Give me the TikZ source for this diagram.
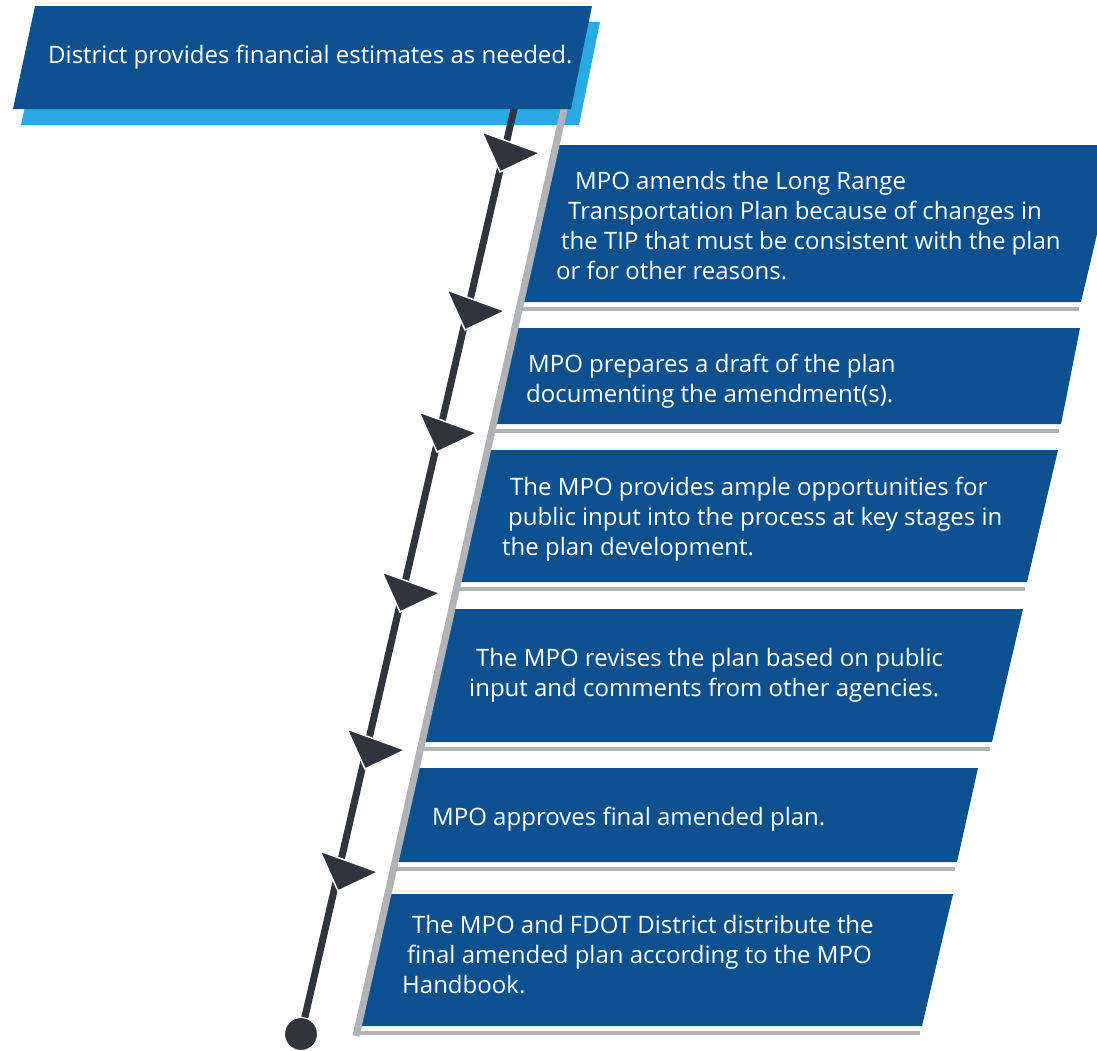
\documentclass[tikz,border=0pt]{standalone}
\usepackage{fontspec}
\setmainfont{Open Sans}
\definecolor{stepblue}{HTML}{0C518D}
\definecolor{shadowblue}{HTML}{29ABE2}
\definecolor{railgray}{HTML}{B1B3B6}
\definecolor{timedark}{HTML}{30343E}
\tikzset{
  steptext/.style={text=white,inner sep=0pt,anchor=west,align=left,font=\fontsize{24}{30}\selectfont},
  marker/.style={fill=timedark,draw=white,line width=1.5pt,line join=miter},
}

\begin{document}
\begin{tikzpicture}[x=1pt,y=-1pt]
			\clip (0,0) rectangle (1097,1050);
			% step boxes, left side sits on the rail
			\foreach \t/\b/\rt/\rb in {145/302/1118/1081,328/424/1080/1061,450/582/1058/1027,609/742/1023/992,768/862/978/957,894/1026/953/922}{
				\fill[stepblue] ({565-0.2254*(\t-110)},\t) -- (\rt,\t) -- (\rb,\b) -- ({565-0.2254*(\b-110)},\b) -- cycle;
				\draw[railgray,line width=4pt] ({565-0.2254*(\b+7-110)},\b+7) -- (\rb-2,\b+7);
			}
			% shadow of the first box
			\fill[shadowblue] (43,22) -- (600,22) -- (579,125) -- (21,125) -- cycle;
			% rail and timeline
			\draw[railgray,line width=7pt] (565,105) -- (356,1036);
			\coordinate (start) at (515,105);
			\node[circle,fill=timedark,draw=white,line width=1pt,minimum size=33pt,inner sep=0pt] (stop) at (301,1034) {};
			\draw[timedark,line width=7pt] (start) -- (stop);
			\fill[stepblue] (35,6) -- (592,6) -- (571,109) -- (13,109) -- cycle;
			% arrow markers on the timeline
			\foreach \x/\y in {540/153,505/311,477/433,440/593,405/750,378/872}
			\filldraw[marker] (\x,\y) -- ++(-58,-21) -- ++(18,40) -- cycle;
			% texts
			\node[steptext] (s0) at (48,57) {District provides financial estimates as needed.};
			\node[steptext] (s1) at (556,226) {\hspace*{19pt}MPO amends the Long Range\\\hspace*{12pt}Transportation Plan because of changes in\\\hspace*{5pt}the TIP that must be consistent with the plan\\or for other reasons.};
			\node[steptext] (s2) at (526,381) {\hspace*{2pt}MPO prepares a draft of the plan\\documenting the amendment(s).};
			\node[steptext] (s3) at (502,519) {\hspace*{8pt}The MPO provides ample opportunities for\\\hspace*{6pt}public input into the process at key stages in\\the plan development.};
			\node[steptext] (s4) at (469,675) {\hspace*{7pt}The MPO revises the plan based on public\\input and comments from other agencies.};
			\node[steptext] (s5) at (432,819) {MPO approves final amended plan.};
			\node[steptext] (s6) at (402,955) {\hspace*{10pt}The MPO and FDOT District distribute the\\\hspace*{5pt}final amended plan according to the MPO\\Handbook.};
\end{tikzpicture}
\end{document}
